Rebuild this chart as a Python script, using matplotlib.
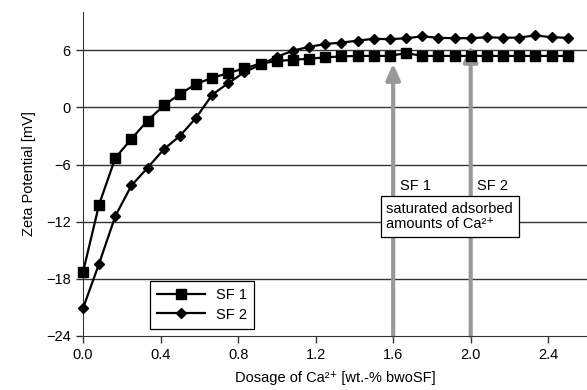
import matplotlib.pyplot as plt

plt.rcParams['font.family'] = ['Liberation Sans', 'DejaVu Sans']
plt.rcParams['font.size'] = 10.5

# dosage of Ca2+ [wt.-% bwoSF]
dosage = [0.0, 0.083, 0.167, 0.25, 0.333, 0.417, 0.5, 0.583, 0.667, 0.75,
          0.833, 0.917, 1.0, 1.083, 1.167, 1.25, 1.333, 1.417, 1.5, 1.583,
          1.667, 1.75, 1.833, 1.917, 2.0, 2.083, 2.167, 2.25, 2.333, 2.417, 2.5]

zeta_sf1 = [-17.3, -10.2, -5.3, -3.3, -1.4, 0.2, 1.4, 2.45, 3.1, 3.6,
            4.1, 4.6, 4.85, 5.0, 5.1, 5.25, 5.35, 5.4, 5.4, 5.4,
            5.7, 5.4, 5.4, 5.4, 5.4, 5.4, 5.4, 5.4, 5.4, 5.4, 5.4]

zeta_sf2 = [-21.1, -16.4, -11.4, -8.2, -6.35, -4.4, -3.0, -1.1, 1.33, 2.55,
            3.7, 4.5, 5.3, 5.95, 6.35, 6.65, 6.8, 7.0, 7.2, 7.15,
            7.26, 7.45, 7.3, 7.26, 7.26, 7.36, 7.3, 7.33, 7.55, 7.36, 7.3]

# saturation dosages marked with arrows
sat_labels = ['SF 1', 'SF 2']
sat_dose = [1.6, 2.0]
sat_zeta = [4.6, 6.5]

fig = plt.figure(figsize=(5.87, 3.9), dpi=100)
ax = fig.add_axes([0.1414, 0.1385, 0.8586, 0.8305])

for yv in [-18, -12, -6, 0, 6]:
    ax.axhline(yv, color='#333333', lw=1.0, zorder=1)

for lab, xd, yz in zip(sat_labels, sat_dose, sat_zeta):
    ax.annotate('', xy=(xd, yz), xytext=(xd, -24),
                arrowprops=dict(arrowstyle='-|>,head_width=0.4,head_length=0.9',
                                color='#999999', lw=3, shrinkA=0, shrinkB=0),
                zorder=2)
    ax.text(xd + 0.035, -8.3, lab, ha='left', va='center', zorder=3)

ax.text(1.565, -11.45, 'saturated adsorbed\namounts of Ca²⁺', ha='left', va='center',
        linespacing=1.05, zorder=4,
        bbox=dict(boxstyle='square,pad=0.4', fc='white', ec='black', lw=0.9))

ax.plot(dosage, zeta_sf1, color='black', lw=1.6, marker='s', ms=6.5, label='SF 1',
        zorder=5, clip_on=False)
ax.plot(dosage, zeta_sf2, color='black', lw=1.6, marker='D', ms=5.5, label='SF 2',
        zorder=5, clip_on=False)

ax.set_xlim(0, 2.6)
ax.set_ylim(-24, 10)
ax.set_xticks([0.0, 0.4, 0.8, 1.2, 1.6, 2.0, 2.4])
ax.set_xticklabels(['0.0', '0.4', '0.8', '1.2', '1.6', '2.0', '2.4'])
ax.set_yticks([-24, -18, -12, -6, 0, 6])
ax.tick_params(direction='out', length=5, width=1, color='#333333', pad=4)

ax.spines['top'].set_visible(False)
ax.spines['right'].set_visible(False)
ax.spines['left'].set_color('#333333')
ax.spines['bottom'].set_color('#333333')

ax.set_xlabel('Dosage of Ca²⁺ [wt.-% bwoSF]', labelpad=6)
ax.set_ylabel('Zeta Potential [mV]', labelpad=7)

leg = ax.legend(loc='lower left', bbox_to_anchor=(0.133, 0.022), borderaxespad=0,
                fancybox=False, edgecolor='black', framealpha=1, handlelength=3.3,
                borderpad=0.5, labelspacing=0.35, handletextpad=0.7)
leg.get_frame().set_linewidth(0.9)
leg.set_zorder(6)

fig.savefig('out.png', dpi=100)
